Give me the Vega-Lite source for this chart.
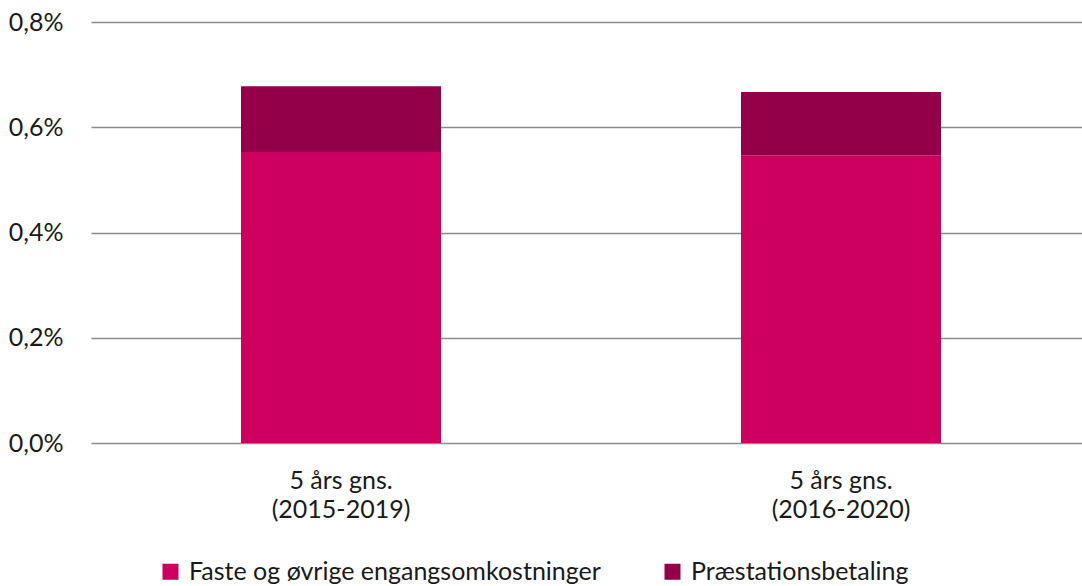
{
  "$schema": "https://vega.github.io/schema/vega-lite/v6.json",
  "width": 991,
  "height": 421,
  "autosize": {"type": "none"},
  "padding": {"left": 91, "top": 22, "right": 0, "bottom": 143},
  "background": "white",
  "config": {
    "view": {"stroke": null},
    "font": "Lato",
    "axis": {"labelFont": "Lato", "labelColor": "#1a1a1a"},
    "legend": {"labelFont": "Lato"}
  },
  "data": {
    "values": [
      {"periode": "5 års gns.|(2015-2019)", "type": "Faste og øvrige engangsomkostninger", "værdi": 0.553, "rk": 1},
      {"periode": "5 års gns.|(2015-2019)", "type": "Præstationsbetaling", "værdi": 0.125, "rk": 2},
      {"periode": "5 års gns.|(2016-2020)", "type": "Faste og øvrige engangsomkostninger", "værdi": 0.547, "rk": 1},
      {"periode": "5 års gns.|(2016-2020)", "type": "Præstationsbetaling", "værdi": 0.12, "rk": 2}
    ]
  },
  "layer": [
    {
      "mark": {"type": "bar"},
      "encoding": {
        "x": {
          "field": "periode",
          "type": "nominal",
          "sort": null,
          "scale": {"paddingInner": 0.6, "paddingOuter": 0.3, "range": [0, 1000]},
          "axis": {
            "title": null,
            "labelAngle": 0,
            "ticks": false,
            "domain": false,
            "labelFontSize": 25,
            "labelLineHeight": 29,
            "labelPadding": 25,
            "labelBaseline": "top",
            "labelExpr": "split(datum.label, '|')"
          }
        },
        "y": {
          "field": "værdi",
          "type": "quantitative",
          "stack": "zero",
          "scale": {"domain": [0, 0.8], "nice": false},
          "axis": {
            "title": null,
            "values": [0, 0.2, 0.4, 0.6, 0.8],
            "ticks": false,
            "domain": false,
            "grid": true,
            "gridColor": "#8a8a8a",
            "gridWidth": 1.6,
            "labelFontSize": 25,
            "labelPadding": 28,
            "labelExpr": "replace(format(datum.value, '.1f'), '.', ',') + '%'"
          }
        },
        "color": {
          "field": "type",
          "type": "nominal",
          "scale": {
            "domain": ["Faste og øvrige engangsomkostninger", "Præstationsbetaling"],
            "range": ["#CD005F", "#930049"]
          },
          "legend": {
            "title": null,
            "orient": "none",
            "direction": "horizontal",
            "legendX": 67,
            "legendY": 537,
            "padding": 0,
            "symbolType": "square",
            "symbolSize": 256,
            "symbolStrokeWidth": 0,
            "labelFontSize": 25,
            "labelOffset": 6,
            "labelLimit": 600,
            "columnPadding": 59,
            "labelColor": "#1a1a1a"
          }
        },
        "order": {"field": "rk", "type": "quantitative"}
      }
    }
  ]
}
